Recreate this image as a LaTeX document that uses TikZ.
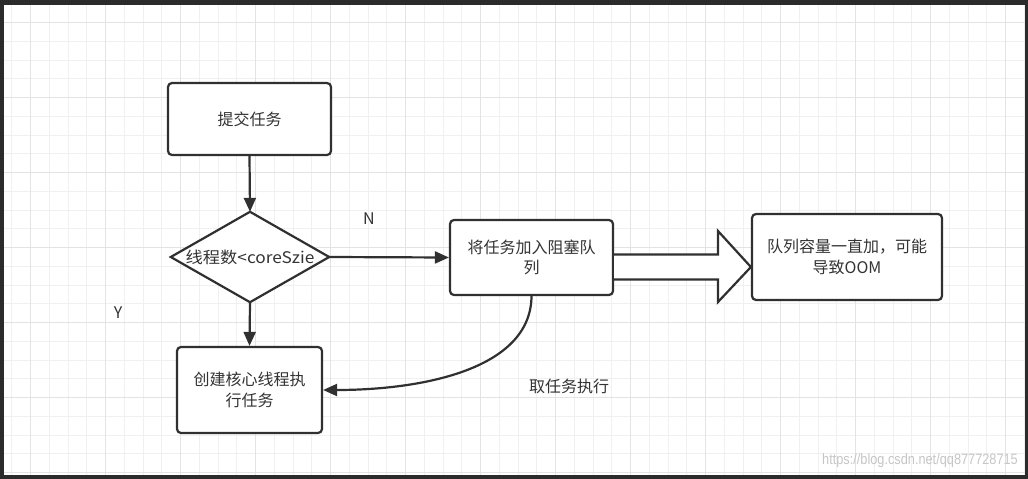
\documentclass[tikz,border=0pt]{standalone}
\usepackage{fontspec}
\setmainfont{Noto Sans CJK SC}
\newfontfamily\wmfont{Liberation Sans}
\usetikzlibrary{arrows.meta,calc}
\definecolor{ln}{HTML}{303030}
\definecolor{framec}{HTML}{2B2B2B}
\definecolor{gridminor}{HTML}{F0F0F0}
\definecolor{gridmajor}{HTML}{E3E3E3}
\definecolor{txt}{HTML}{333333}
\begin{document}
\begin{tikzpicture}[x=1pt,y=-1pt,
  box/.style={draw=ln, line width=2.2pt, rounded corners=4pt, fill=white, align=center, text=txt, font=\fontsize{16}{20.5}\selectfont, inner sep=0pt},
  conn/.style={draw=ln, line width=2.2pt, -{Triangle[length=14pt,width=12pt]}},
  lbl/.style={text=txt, font=\fontsize{16}{20}\selectfont, inner sep=0pt}]
\useasboundingbox (0,0) rectangle (1028,479);
\fill[framec] (0,0) rectangle (1028,479);
\fill[white] (4,5) rectangle (1025,475);
% grid
\begin{scope}
\clip (4,5) rectangle (1025,475);
\foreach \i in {-2,...,54} {
  \draw[gridminor, line width=1pt] ({30.5+18.75*\i},5) -- ({30.5+18.75*\i},475);
}
\foreach \j in {-1,...,25} {
  \draw[gridminor, line width=1pt] (4,{22.7+18.75*\j}) -- (1025,{22.7+18.75*\j});
}
\foreach \i in {0,...,13} {
  \draw[gridmajor, line width=1pt] ({30.5+75*\i},5) -- ({30.5+75*\i},475);
}
\foreach \j in {0,...,6} {
  \draw[gridmajor, line width=1pt] (4,{22.7+75*\j}) -- (1025,{22.7+75*\j});
}
\end{scope}
% nodes
\node[box, minimum width=163pt, minimum height=72pt] (submit) at (249.5,119) {提交任务};
\node[minimum width=158pt, minimum height=90pt, inner sep=0pt] (dec) at (250,257) {};
\draw[ln, line width=2.2pt, fill=white, line join=miter] (dec.west) -- (dec.north) -- (dec.east) -- (dec.south) -- cycle;
\node[lbl, xscale=1.08] (dectext) at (dec.center) {线程数<coreSzie};
\node[box, minimum width=163pt, minimum height=75pt] (queue) at (531.5,257.5) {将任务加入阻塞队\\列};
\node[box, minimum width=190pt, minimum height=86pt] (oom) at (847,257) {队列容量一直加，可能\\导致OOM};
\node[box, minimum width=145pt, minimum height=86pt] (core) at (249.5,390) {创建核心线程执\\行任务};
% block arrow
\draw[ln, line width=2.2pt, fill=white, line join=miter]
  ($(queue.east)+(0,-3)$) -- (718,254.5) -- (718,231) -- ($(oom.west)+(0,10)$) -- (718,302) -- (718,279.5) -- ($(queue.east)+(0,22)$);
% connectors
\draw[conn] (submit.south) -- (dec.north);
\draw[conn] (dec.east) -- (queue.west);
\draw[conn] (dec.south) -- (core.north);
\draw[conn] (queue.south) .. controls (531,370) and (420,390) .. (core.east);
% labels
\node[lbl] (n) at (369,219) {N};
\node[lbl] (y) at (118,313) {Y};
\node[lbl] (take) at (569,386) {取任务执行};
\node[text=gray!45, font=\wmfont\fontsize{15}{18}\selectfont, inner sep=0pt, anchor=east, xscale=0.85] (wm) at (1018,461) {https://blog.csdn.net/qq877728715};
\end{tikzpicture}
\end{document}
